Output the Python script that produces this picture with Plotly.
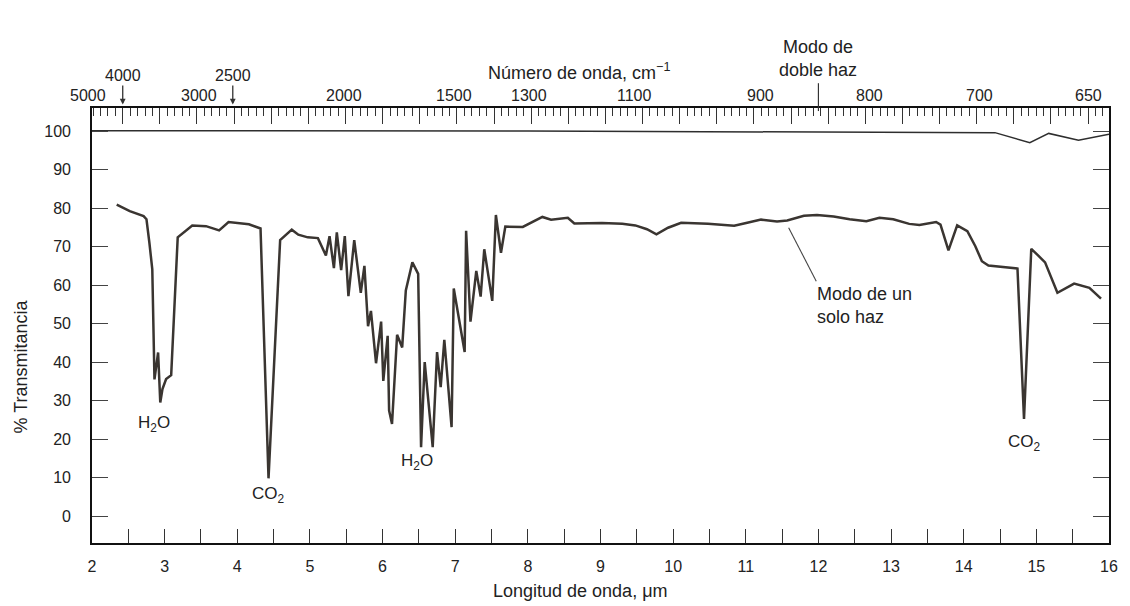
import plotly.graph_objects as go

# ---------------- data ----------------
# single-beam spectrum: wavelength (um) and % transmittance
wl_single = [2.34, 2.52, 2.71, 2.75, 2.79, 2.83, 2.86, 2.91, 2.94, 2.97, 3.02, 3.09,
             3.18, 3.38, 3.57, 3.75, 3.88, 4.16, 4.32, 4.43, 4.59, 4.75, 4.84, 4.97,
             5.11, 5.22, 5.27, 5.33, 5.37, 5.43, 5.48, 5.53, 5.61, 5.70, 5.75, 5.80,
             5.84, 5.91, 5.98, 6.01, 6.07, 6.09, 6.13, 6.20, 6.27, 6.32, 6.41, 6.49,
             6.53, 6.58, 6.69, 6.75, 6.80, 6.85, 6.95, 6.98, 7.13, 7.15, 7.21, 7.29,
             7.35, 7.40, 7.51, 7.56, 7.63, 7.69, 7.93, 8.20, 8.32, 8.55, 8.64, 9.02,
             9.30, 9.48, 9.64, 9.77, 9.93, 10.11, 10.48, 10.84, 11.02, 11.21, 11.43,
             11.57, 11.80, 11.98, 12.21, 12.43, 12.66, 12.84, 13.03, 13.25, 13.39,
             13.62, 13.68, 13.79, 13.91, 14.05, 14.16, 14.25, 14.34, 14.53, 14.74,
             14.83, 14.93, 15.03, 15.12, 15.29, 15.39, 15.52, 15.73, 15.89]
tr_single = [80.9, 79.2, 77.9, 77.1, 71.0, 64.1, 35.5, 42.5, 29.5, 33.0, 35.6, 36.6,
             72.4, 75.5, 75.3, 74.2, 76.4, 75.8, 74.7, 9.8, 71.7, 74.4, 73.1, 72.4,
             72.2, 67.7, 72.7, 64.4, 73.7, 63.9, 72.7, 57.1, 71.7, 58.0, 65.0, 49.3,
             53.3, 39.7, 50.5, 35.1, 46.8, 27.4, 23.9, 47.1, 43.8, 58.6, 65.9, 62.9,
             17.9, 40.0, 17.9, 42.6, 33.5, 45.8, 23.1, 59.1, 42.6, 74.1, 50.5, 63.7,
             57.0, 69.3, 55.9, 78.2, 68.4, 75.2, 75.1, 77.7, 77.0, 77.5, 76.0, 76.1,
             75.9, 75.5, 74.5, 73.2, 74.9, 76.2, 75.9, 75.4, 76.2, 77.0, 76.5,
             76.8, 78.0, 78.2, 77.8, 77.1, 76.6, 77.5, 77.1, 75.9, 75.6,
             76.4, 75.7, 69.0, 75.5, 74.0, 70.1, 66.2, 65.1, 64.7, 64.3,
             25.2, 69.4, 67.6, 65.9, 58.0, 59.1, 60.4, 59.3, 56.5]

# double-beam (100 % line)
wl_double = [2.0, 8.0, 14.43, 14.91, 15.17, 15.58, 16.0]
tr_double = [100.1, 100.0, 99.6, 97.0, 99.4, 97.6, 99.2]

# axis ticks / labels
wl_ticks = list(range(2, 17))
y_ticks = list(range(0, 101, 10))
wn_labels = ["5000", "3000", "2000", "1500", "1300", "1100", "900", "800", "700", "650"]
wn_label_pos = [1.945, 3.474, 5.466, 6.987, 8.017, 9.463, 11.196, 12.697, 14.212, 15.713]
wn_arrow_labels = ["4000", "2500"]
wn_arrow_pos = [2.423, 3.938]

FONT = "Liberation Sans, Arial, Helvetica, sans-serif"
INK = "#222222"

X0, X1 = 2, 16
PX_L, PX_W = 92, 1026


def xpaper(um):
    """convert a wavelength position to paper x (for labels just outside the range)"""
    return (um - X0) / (X1 - X0)


fig = go.Figure()
fig.add_trace(go.Scatter(x=wl_single, y=tr_single, mode="lines",
                         line=dict(color="#3a3531", width=2.5), showlegend=False,
                         hoverinfo="skip"))
fig.add_trace(go.Scatter(x=wl_double, y=tr_double, mode="lines", xaxis="x2",
                         line=dict(color="#2e2e2e", width=1.5), showlegend=False,
                         hoverinfo="skip"))


def txt(size):
    return dict(size=size, color=INK, family=FONT)


annotations = []
# top wavenumber labels (lower row)
for t, p in zip(wn_labels, wn_label_pos):
    annotations.append(dict(x=xpaper(p), xref="paper", y=1.0287, yref="paper", text=t,
                            showarrow=False, font=txt(16),
                            xanchor="center", yanchor="middle"))
# upper row with arrows
for t, p in zip(wn_arrow_labels, wn_arrow_pos):
    annotations.append(dict(x=p, xref="x", y=1.008, yref="paper", text=t,
                            showarrow=True, ax=0, ay=-29, arrowhead=2, arrowsize=0.9,
                            arrowwidth=1.3, arrowcolor="#333", font=txt(16)))
annotations += [
    dict(x=(583 - PX_L) / PX_W, xref="paper", y=1.085, yref="paper",
         text="Número de onda, cm<sup>−1</sup>", showarrow=False, font=txt(18),
         xanchor="center", yanchor="middle"),
    dict(x=xpaper(12.0), xref="paper", y=1.14, yref="paper", text="Modo de",
         showarrow=False, font=txt(18), xanchor="center", yanchor="middle"),
    dict(x=xpaper(12.0), xref="paper", y=1.088, yref="paper", text="doble haz",
         showarrow=False, font=txt(18), xanchor="center", yanchor="middle"),
    dict(x=11.95, xref="x", y=54.8, yref="y", text="Modo de un<br>solo haz",
         showarrow=False, xanchor="left", yanchor="middle", align="left",
         font=txt(18)),
    dict(x=2.86, xref="x", y=23.8, yref="y", text="H<sub>2</sub>O", showarrow=False,
         font=txt(17), xanchor="center", yanchor="middle"),
    dict(x=4.43, xref="x", y=5.5, yref="y", text="CO<sub>2</sub>", showarrow=False,
         font=txt(17), xanchor="center", yanchor="middle"),
    dict(x=6.475, xref="x", y=14.0, yref="y", text="H<sub>2</sub>O", showarrow=False,
         font=txt(17), xanchor="center", yanchor="middle"),
    dict(x=14.84, xref="x", y=19.1, yref="y", text="CO<sub>2</sub>", showarrow=False,
         font=txt(17), xanchor="center", yanchor="middle"),
    dict(x=(20 - PX_L) / PX_W, xref="paper", y=0.405, yref="paper",
         text="% Transmitancia", textangle=-90, showarrow=False, font=txt(18),
         xanchor="center", yanchor="middle"),
    dict(x=(585 - PX_L) / PX_W, xref="paper", y=-0.111, yref="paper",
         text="Longitud de onda, μm", showarrow=False, font=txt(18),
         xanchor="center", yanchor="middle"),
]

shapes = [
    dict(type="line", xref="x", yref="paper", x0=12.0, x1=12.0, y0=0.993, y1=1.057,
         line=dict(color="#333", width=1.2)),
    dict(type="line", xref="x", yref="y", x0=11.59, y0=74.9, x1=11.97, y1=61.0,
         line=dict(color="#444", width=1.1)),
]

fig.update_layout(
    width=1130, height=606,
    margin=dict(l=92, r=12, t=108, b=63),
    paper_bgcolor="white", plot_bgcolor="white",
    font=dict(family=FONT, size=16, color=INK),
    xaxis=dict(range=[X0, X1], tickmode="array", tickvals=wl_ticks,
               ticktext=[str(v) for v in wl_ticks],
               ticks="inside", ticklen=14, tickwidth=1.3, tickcolor="#333",
               minor=dict(ticks="inside", ticklen=14, dtick=0.5, tick0=2,
                          tickwidth=1.3, tickcolor="#333"),
               showline=True, linecolor="#111", linewidth=1.6, mirror=False,
               showgrid=False, zeroline=False, ticklabelstandoff=8,
               tickfont=txt(16)),
    xaxis2=dict(range=[X0, X1], overlaying="x", side="top", anchor="y",
                tickmode="linear", tick0=2.423, dtick=0.5111,
                ticks="inside", ticklen=16, tickwidth=1.3, tickcolor="#333",
                minor=dict(ticks="inside", ticklen=8, dtick=0.10222, tick0=2.423,
                           tickwidth=1.1, tickcolor="#333"),
                showticklabels=False, showline=True, linecolor="#111", linewidth=1.6,
                showgrid=False, zeroline=False),
    yaxis=dict(range=[-7, 106], tickmode="array", tickvals=y_ticks,
               ticks="inside", ticklen=16, tickwidth=1.3, tickcolor="#444",
               showline=True, linecolor="#111", linewidth=1.6, mirror="ticks",
               showgrid=False, zeroline=False, ticklabelstandoff=16,
               tickfont=txt(16)),
    annotations=annotations,
    shapes=shapes,
)

fig.write_html("out.html")
